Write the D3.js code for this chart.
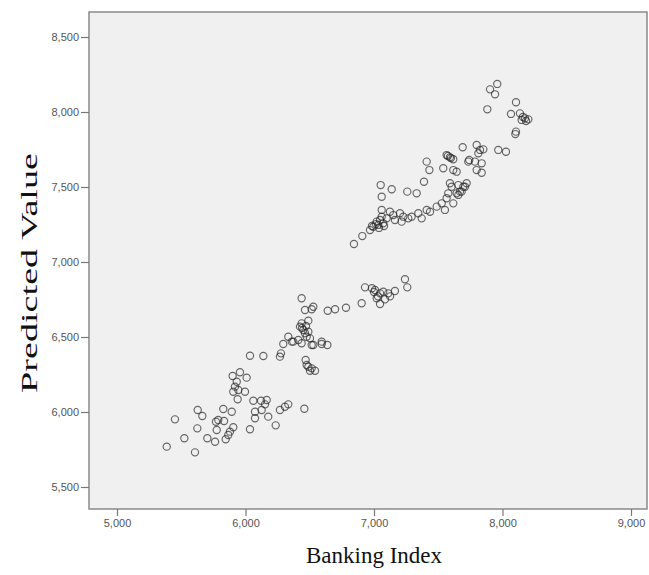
<!DOCTYPE html>
<html>
<head>
<meta charset="utf-8">
<script src="https://cdn.jsdelivr.net/npm/d3@7"></script>
<style>
  body { margin: 0; background: #fff; }
  .tick text { font-family: "Liberation Sans", Arial, sans-serif; font-size: 11px; fill: #555; }
  .axis-title { font-family: "Liberation Serif", "Times New Roman", serif; font-size: 23px; fill: #111; }
</style>
</head>
<body>
<div id="chart"></div>
<script>
// banking index (x) vs predicted value (y)
const bankingIndex = [
  5387, 5451, 5524, 5607, 5625, 5628, 5664, 5703, 5763, 5770, 5788, 5827, 5833, 5893, 5846, 5866,
  5905, 5879, 5776, 5900, 5957, 6009, 5932, 5905, 5944, 5996, 5939, 5918, 6035, 6061, 6121, 6165,
  6152, 6074, 6074, 6126, 6177, 6235, 6268, 6307, 6333, 6458, 6035, 6139, 6268, 6276, 6468, 6476,
  6502, 6541, 6294, 6360, 6437, 6515, 6593, 6333, 6372, 6411, 6424, 6437, 6450, 6463, 6476, 6489,
  6502, 6489, 6437, 6463, 6515, 6528, 6528, 6593, 6637, 6489, 6515, 6640, 6697, 6782, 6904, 6930,
  7008, 7047, 7072, 7111, 7163, 7021, 7047, 7086, 7241, 7259, 6984, 7031, 7125, 7000,
  6844, 6909, 6969, 6995, 7021, 7047, 7072, 7060, 7099, 7033, 7060, 7124, 7150, 7163, 7202, 7228,
  7215, 7267, 7293, 7345, 7371, 7410, 7436, 7488, 7527, 7552, 7565, 7578, 7604, 7617, 7591, 7656,
  7695, 7721, 7682, 7643, 7052, 7138, 7060, 7259, 7332, 7389, 7410, 7431, 7539, 7617, 7643, 7734,
  7799, 7903, 7959, 7942, 7882, 8105, 8066, 8136, 8175, 8149, 8201, 8159, 8183, 8105, 8100, 7690,
  7799, 7825, 7851, 7812, 7967, 8027, 7565, 7591, 7617, 7575, 7599, 7741, 7786, 7838, 7838, 7708,
  7669, 7656, 6984, 7015, 7039, 7078, 6440, 6471
];
const predictedValue = [
  5769, 5951, 5825, 5731, 5891, 6013, 5973, 5825, 5802, 5935, 5947, 6020, 5940, 6002, 5818, 5847,
  5898, 5869, 5880, 6240, 6265, 6229, 6202, 6135, 6147, 6135, 6085, 6169, 5885, 6075, 6075, 6080,
  6051, 6002, 5958, 6013, 5969, 5911, 6013, 6035, 6051, 6022, 6375, 6373, 6369, 6391, 6347, 6313,
  6275, 6275, 6453, 6469, 6458, 6447, 6453, 6502, 6469, 6480, 6569, 6591, 6547, 6525, 6502, 6535,
  6491, 6609, 6758, 6680, 6685, 6702, 6447, 6469, 6447, 6302, 6291, 6675, 6685, 6695, 6725, 6831,
  6813, 6791, 6802, 6791, 6807, 6758, 6720, 6751, 6885, 6831, 6825, 6771, 6771, 6800,
  7120, 7173, 7213, 7235, 7269, 7280, 7258, 7302, 7291, 7247, 7347, 7335, 7313, 7280, 7325, 7302,
  7269, 7291, 7302, 7325, 7291, 7347, 7335, 7369, 7391, 7347, 7425, 7458, 7502, 7391, 7525, 7513,
  7502, 7525, 7469, 7458, 7513, 7485, 7435, 7469, 7458, 7535, 7669, 7613, 7625, 7613, 7602, 7669,
  7613, 8151, 8187, 8118, 8018, 8065, 7987, 7991, 7958, 7947, 7951, 7967, 7940, 7869, 7853, 7765,
  7780, 7747, 7751, 7725, 7747, 7735, 7713, 7698, 7685, 7707, 7693, 7680, 7669, 7658, 7595, 7502,
  7469, 7447, 7240, 7253, 7227, 7240, 6560, 6573
];
const xTicks = [5000, 6000, 7000, 8000, 9000];
const yTicks = [5500, 6000, 6500, 7000, 7500, 8000, 8500];

const W = 649, H = 575;
const plot = { left: 89, top: 12, right: 647, bottom: 509 };

const svg = d3.select("#chart").append("svg")
    .attr("width", W)
    .attr("height", H);

var x = d3.scaleLinear()
    .domain([5000, 9000])
    .range([117, 631]);

var y = d3.scaleLinear()
    .domain([5500, 8500])
    .range([487, 37]);

// plot frame
svg.append("rect")
    .attr("x", plot.left).attr("y", plot.top)
    .attr("width", plot.right - plot.left)
    .attr("height", plot.bottom - plot.top)
    .attr("fill", "#f0f0f0")
    .attr("stroke", "#8a8a8a")
    .attr("stroke-width", 1.5);

var fmt = d3.format(",");

var yAxis = svg.append("g")
    .attr("transform", "translate(" + plot.left + ",0)")
    .call(d3.axisLeft(y).tickValues(yTicks).tickFormat(fmt).tickSize(8).tickPadding(2));

var xAxis = svg.append("g")
    .attr("transform", "translate(0," + plot.bottom + ")")
    .call(d3.axisBottom(x).tickValues(xTicks).tickFormat(fmt).tickSize(7).tickPadding(3));

[xAxis, yAxis].forEach(a => {
  a.select(".domain").remove();
  a.selectAll(".tick line").attr("stroke", "#777").attr("stroke-width", 1.2);
});

// points
svg.append("g")
  .selectAll("circle")
  .data(d3.range(bankingIndex.length))
  .enter().append("circle")
    .attr("cx", i => x(bankingIndex[i]))
    .attr("cy", i => y(predictedValue[i]))
    .attr("r", 3.6)
    .attr("fill", "none")
    .attr("stroke", "#2a2a2a")
    .attr("stroke-opacity", 0.7)
    .attr("stroke-width", 1.15);

svg.append("text")
    .attr("class", "axis-title")
    .attr("x", 374)
    .attr("y", 563)
    .attr("text-anchor", "middle")
    .text("Banking Index");

// y title is stretched along its length in the original
svg.append("text")
    .attr("class", "axis-title")
    .attr("transform", "translate(37,273) rotate(-90)")
    .attr("x", -120)
    .attr("textLength", 240)
    .attr("lengthAdjust", "spacingAndGlyphs")
    .text("Predicted Value");
</script>
</body>
</html>
